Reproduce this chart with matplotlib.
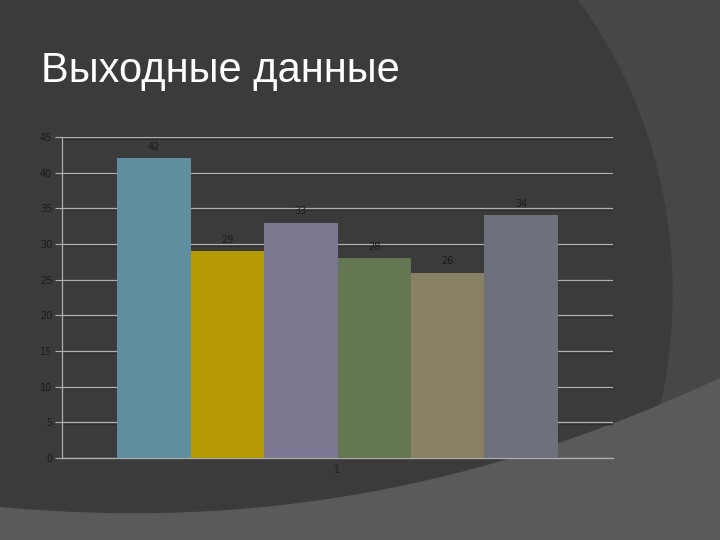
import numpy as np
import matplotlib
matplotlib.use("Agg")
import matplotlib.pyplot as plt
from matplotlib.patches import Ellipse, PathPatch, Rectangle
from matplotlib.path import Path

# chart data
categories = ["1"]
series_values = [42, 29, 33, 28, 26, 34]
series_colors = ["#5f8e9e", "#b59a06", "#7c7892", "#647752", "#888166", "#6d717b"]
y_ticks = [0, 5, 10, 15, 20, 25, 30, 35, 40, 45]

DARK = "#3b3b3b"
MID = "#474747"
LIGHT = "#5a5a5a"


def drawBackground(fig):
    bg = fig.add_axes([0, 0, 1, 1], zorder=0)
    bg.set_xlim(0, 720)
    bg.set_ylim(540, 0)
    bg.axis("off")
    bg.add_patch(Rectangle((0, 0), 720, 540, color=MID))
    bg.add_patch(Ellipse((272, 293), 800, 906, color=DARK))
    # lower lighter band
    verts = [(0, 507), (250, 530), (480, 490), (720, 378),
             (720, 540), (0, 540), (0, 507)]
    codes = [Path.MOVETO, Path.CURVE4, Path.CURVE4, Path.CURVE4,
             Path.LINETO, Path.LINETO, Path.CLOSEPOLY]
    bg.add_patch(PathPatch(Path(verts, codes), color=LIGHT, lw=0))
    bg.text(41, 71, "Выходные данные", color="white", fontsize=30,
            family="Liberation Sans", va="center", ha="left")


def makeChart(fig):
    ax = fig.add_axes([62/720, 82/540, 551/720, 321/540], zorder=1)
    ax.patch.set_alpha(0)
    n = len(series_values)
    w = 0.8 / n
    x0 = 1 - 0.4
    for i in range(n):
        xc = x0 + w * (i + 0.5)
        ax.bar(xc, series_values[i], width=w, color=series_colors[i],
               zorder=3, linewidth=0)
        ax.text(xc, series_values[i] + 0.9, str(series_values[i]),
                ha="center", va="bottom", fontsize=7, color="#1a1a1a")

    ax.set_xlim(0.5, 1.5)
    ax.set_ylim(0, 45)
    ax.set_yticks(y_ticks)
    ax.set_xticks([1])
    ax.set_xticklabels(categories)
    # faint dark shadow under each gridline, then the light line
    for t in y_ticks[1:]:
        ax.axhline(t - 0.22, color="#2e2e2e", lw=0.9, zorder=1)
    ax.yaxis.grid(True, color="#b0b0b0", lw=0.9, zorder=2)
    ax.tick_params(axis="y", length=5, color="#b0b0b0", labelsize=7,
                   labelcolor="#1a1a1a", pad=2)
    ax.tick_params(axis="x", length=0, labelsize=7,
                   labelcolor="#1a1a1a", pad=5)
    for s in ["top", "right"]:
        ax.spines[s].set_visible(False)
    ax.spines["left"].set_color("#b0b0b0")
    ax.spines["bottom"].set_color("#b0b0b0")
    ax.spines["left"].set_linewidth(0.9)
    ax.spines["bottom"].set_linewidth(0.9)


def main():
    fig = plt.figure(figsize=(7.2, 5.4), dpi=100)
    drawBackground(fig)
    makeChart(fig)
    fig.savefig("out.png", dpi=100)

main()
